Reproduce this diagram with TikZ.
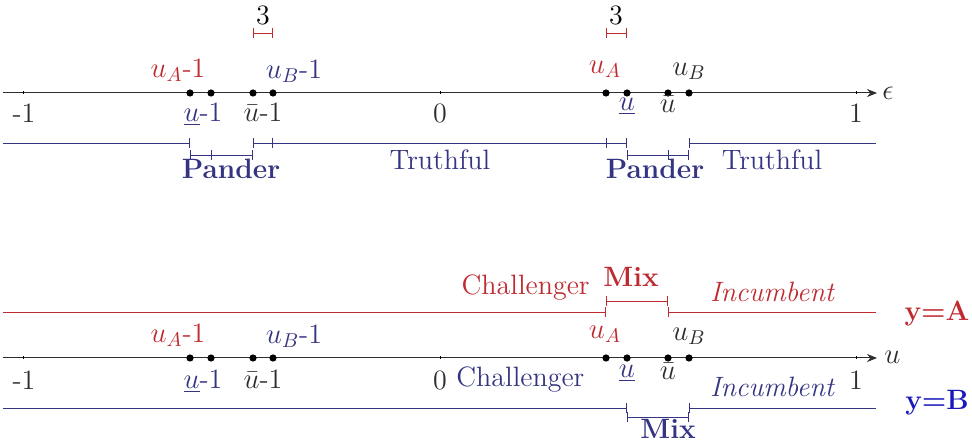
\documentclass[tikz,border=0pt]{standalone}
\usetikzlibrary{arrows.meta}
\definecolor{myred}{RGB}{190,42,48}
\definecolor{myblue}{RGB}{52,52,130}
\definecolor{brightblue}{RGB}{25,25,185}
\definecolor{mygray}{RGB}{45,45,45}
\begin{document}
\begin{tikzpicture}[x=0.5pt,y=-0.5pt,
  every node/.style={font=\fontsize{14}{17}\selectfont, inner sep=0pt},
  axisline/.style={line width=0.5pt, draw=mygray, -{Stealth[length=5pt,width=4pt]}},
  dotpt/.style={circle, fill=black, minimum size=3.6pt, inner sep=0pt},
  barline/.style={line width=0.45pt},
  bb/.style={barline, {Bar[width=5pt]}-{Bar[width=5pt]}},
  eb/.style={barline, -{Bar[width=5pt]}},
  sb/.style={barline, {Bar[width=5pt]}-},
  tk/.style={line width=0.4pt},
  bluetxt/.style={text=myblue},
  redtxt/.style={text=myred},
  graytxt/.style={text=mygray}]
\useasboundingbox (0,0) rectangle (972,442);

% ===================== TOP =====================
\coordinate (ta0) at (3,93);
\coordinate (ta1) at (877,93);
\draw[axisline] (ta0) -- (ta1);
\node[graytxt, anchor=west] (eps) at (882,93) {$\epsilon$};
\foreach \x/\n in {23/m, 440/z, 856/p} {
  \coordinate (tt\n a) at (\x,91.5); \coordinate (tt\n b) at (\x,94.5);
  \draw[tk] (tt\n a) -- (tt\n b);
}
\node[dotpt] (d1) at (190,93) {};
\node[dotpt] (d2) at (211,93) {};
\node[dotpt] (d3) at (253,93) {};
\node[dotpt] (d4) at (273,93) {};
\node[dotpt] (d5) at (606,93) {};
\node[dotpt] (d6) at (627,93) {};
\node[dotpt] (d7) at (668,93) {};
\node[dotpt] (d8) at (689,93) {};

% brackets "3"
\coordinate (b1a) at (253,33); \coordinate (b1b) at (273,33);
\draw[bb, myred] (b1a) -- (b1b);
\node (three1) at (263,15) {3};
\coordinate (b2a) at (606,33); \coordinate (b2b) at (627,33);
\draw[bb, myred] (b2a) -- (b2b);
\node (three2) at (616,15) {3};

% labels above
\node[redtxt] (l1) at (178,70) {$u_A$-1};
\node[bluetxt] (l2) at (294,71) {$u_B$-1};
\node[redtxt] (l3) at (605,69) {$u_A$};
\node[graytxt] (l4) at (689,71) {$u_B$};
% labels below
\node[graytxt] (m1) at (24,113) {-1};
\node[bluetxt] (m2) at (203,114) {$\underline{u}$-1};
\node[graytxt] (m3) at (263,112) {$\bar{u}$-1};
\node[graytxt] (m4) at (440,113) {0};
\node[bluetxt] (m5) at (627,106) {$\underline{u}$};
\node[graytxt] (m6) at (668,104) {$\bar{u}$};
\node[graytxt] (m7) at (856,113) {1};

% intervals
\begin{scope}[draw=myblue]
\coordinate (i0) at (3,143);
\coordinate (i1) at (190,143);
\draw[eb] (i0) -- (i1);
\coordinate (j1) at (190,155); \coordinate (j2) at (211,155); \coordinate (j3) at (253,155);
\draw[bb] (j1) -- (j3);
\coordinate (j2a) at (211,150); \coordinate (j2b) at (211,160);
\draw[tk] (j2a) -- (j2b);
\coordinate (i3) at (253,143); \coordinate (i4) at (273,143);
\coordinate (i5) at (606,143); \coordinate (i6) at (627,143);
\draw[bb] (i3) -- (i4);
\draw[barline] (i4) -- (i5);
\draw[bb] (i5) -- (i6);
\coordinate (k1) at (627,155); \coordinate (k3) at (689,155);
\draw[bb] (k1) -- (k3);
\coordinate (k2a) at (668,150); \coordinate (k2b) at (668,160);
\draw[tk] (k2a) -- (k2b);
\coordinate (i8) at (689,143); \coordinate (i9) at (876,143);
\draw[sb] (i8) -- (i9);
\end{scope}
\node[bluetxt, font=\fontsize{14}{17}\selectfont\bfseries] (p1) at (231,169) {Pander};
\node[bluetxt] (t1) at (440,160) {Truthful};
\node[bluetxt, font=\fontsize{14}{17}\selectfont\bfseries] (p2) at (655,169) {Pander};
\node[bluetxt] (t2) at (772,160) {Truthful};

% ===================== BOTTOM =====================
% red line (y=A)
\begin{scope}[draw=myred]
\coordinate (r0) at (3,312); \coordinate (r1) at (606,312);
\draw[eb] (r0) -- (r1);
\coordinate (r2) at (606,301); \coordinate (r3) at (668,301);
\draw[bb] (r2) -- (r3);
\coordinate (r4) at (668,312); \coordinate (r5) at (876,312);
\draw[sb] (r4) -- (r5);
\end{scope}
\node[redtxt, font=\fontsize{14}{17}\selectfont\bfseries] (mixA) at (631,277) {Mix};
\node[redtxt, anchor=east] (chA) at (590,288) {Challenger};
\node[redtxt, font=\fontsize{14}{17}\selectfont\itshape] (incA) at (772,292) {Incumbent};
\node[redtxt, font=\fontsize{14}{17}\selectfont\bfseries] (yA) at (937,314) {y=A};

% axis
\coordinate (ba0) at (3,358);
\coordinate (ba1) at (877,358);
\draw[axisline] (ba0) -- (ba1);
\node[graytxt, anchor=west] (uu) at (884,357) {$u$};
\foreach \x/\n in {23/m, 440/z, 856/p} {
  \coordinate (bt\n a) at (\x,356.5); \coordinate (bt\n b) at (\x,359.5);
  \draw[tk] (bt\n a) -- (bt\n b);
}
\node[dotpt] (e1) at (190,358) {};
\node[dotpt] (e2) at (211,358) {};
\node[dotpt] (e3) at (253,358) {};
\node[dotpt] (e4) at (273,358) {};
\node[dotpt] (e5) at (606,358) {};
\node[dotpt] (e6) at (627,358) {};
\node[dotpt] (e7) at (668,358) {};
\node[dotpt] (e8) at (689,358) {};

\node[redtxt] (n1) at (178,335) {$u_A$-1};
\node[bluetxt] (n2) at (294,336) {$u_B$-1};
\node[redtxt] (n3) at (605,334) {$u_A$};
\node[graytxt] (n4) at (689,336) {$u_B$};
\node[graytxt] (o1) at (24,380) {-1};
\node[bluetxt] (o2) at (203,381) {$\underline{u}$-1};
\node[graytxt] (o3) at (263,379) {$\bar{u}$-1};
\node[graytxt] (o4) at (440,380) {0};
\node[bluetxt] (o5) at (627,373) {$\underline{u}$};
\node[graytxt] (o6) at (668,371) {$\bar{u}$};
\node[graytxt] (o7) at (856,380) {1};

\node[bluetxt, anchor=west] (chB) at (456,380) {Challenger};
\node[bluetxt, font=\fontsize{14}{17}\selectfont\itshape] (incB) at (772,387) {Incumbent};
\node[text=brightblue, font=\fontsize{14}{17}\selectfont\bfseries] (yB) at (937,403) {y=B};

% blue line (y=B)
\begin{scope}[draw=myblue]
\coordinate (s0) at (3,408); \coordinate (s1) at (627,408);
\draw[eb] (s0) -- (s1);
\coordinate (s2) at (627,417); \coordinate (s3) at (689,417);
\draw[bb] (s2) -- (s3);
\coordinate (s4) at (689,408); \coordinate (s5) at (876,408);
\draw[sb] (s4) -- (s5);
\end{scope}
\node[bluetxt, font=\fontsize{14}{17}\selectfont\bfseries] (mixB) at (668,429) {Mix};
\end{tikzpicture}
\end{document}
